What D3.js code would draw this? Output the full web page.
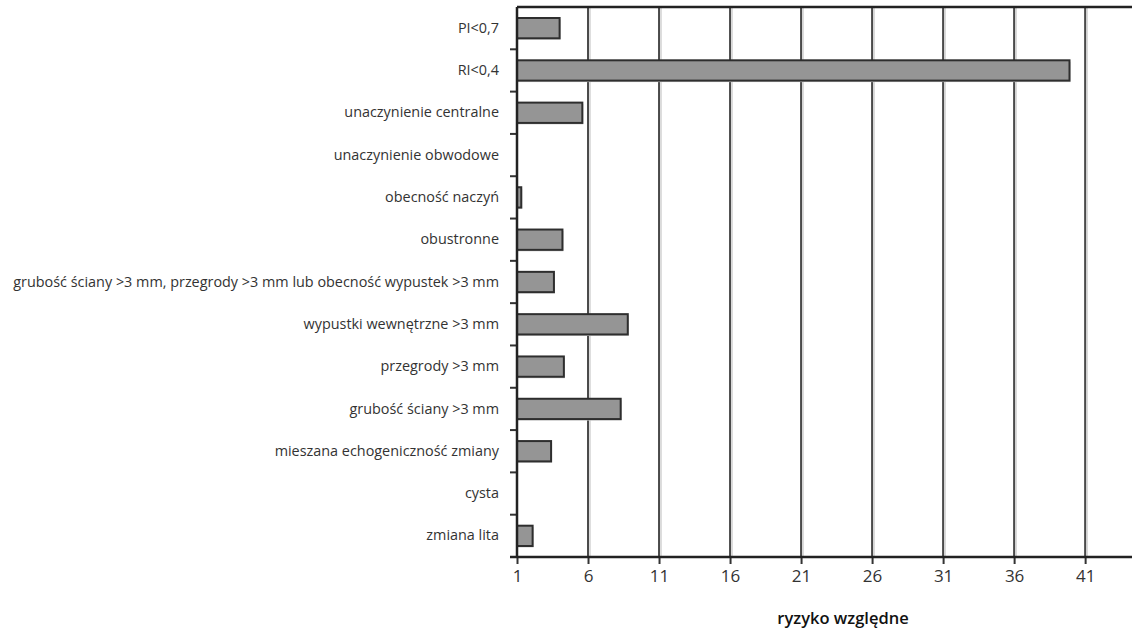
<!DOCTYPE html>
<html><head><meta charset="utf-8">
<script src="https://cdn.jsdelivr.net/npm/d3@7"></script>
<style>body{margin:0;background:#fff}svg{display:block}</style>
</head><body><svg id="c" width="1132" height="632"></svg>
<script>
const categories = ["PI<0,7","RI<0,4","unaczynienie centralne","unaczynienie obwodowe","obecność naczyń","obustronne","grubość ściany >3 mm, przegrody >3 mm lub obecność wypustek >3 mm","wypustki wewnętrzne >3 mm","przegrody >3 mm","grubość ściany >3 mm","mieszana echogeniczność zmiany","cysta","zmiana lita"];
const values = [4.0, 39.9, 5.6, null, 1.3, 4.2, 3.6, 8.8, 4.3, 8.3, 3.4, null, 2.1];
const tickValues = [1,6,11,16,21,26,31,36,41];
const axisTitle = "ryzyko względne";

(function(){
const svg = d3.select("#c");
const L = 517, R = 1132, T = 7, B = 557;
const x = d3.scaleLinear().domain([1, 44.3]).range([L, R]);
const y = d3.scaleBand().domain(categories).range([T, B]).paddingInner(0.52).paddingOuter(0.26);
const yb = d3.scaleBand().domain(categories).range([T, B]);

const g = svg.append("g");
g.selectAll(".gs").data(tickValues.slice(1)).join("line")
  .attr("x1", d => x(d)+2).attr("x2", d => x(d)+2).attr("y1", T).attr("y2", B)
  .attr("stroke", "#d4d4d4").attr("stroke-width", 1.5);
g.selectAll(".gl").data(tickValues.slice(1)).join("line")
  .attr("x1", d => x(d)).attr("x2", d => x(d)).attr("y1", T).attr("y2", B)
  .attr("stroke", "#4a4a4a").attr("stroke-width", 2);

svg.append("line").attr("x1", L).attr("x2", R).attr("y1", T).attr("y2", T)
  .attr("stroke", "#222").attr("stroke-width", 2.5);

const data = categories.map((c,i)=>({c, v: values[i]})).filter(d => d.v != null);
svg.append("g").selectAll("rect").data(data).join("rect")
  .attr("x", x(1)+1).attr("y", d => y(d.c)+1.5)
  .attr("width", d => x(d.v)-x(1)).attr("height", y.bandwidth())
  .attr("fill", "#cfcfcf");
svg.append("g").selectAll("rect").data(data).join("rect")
  .attr("x", x(1)).attr("y", d => y(d.c))
  .attr("width", d => x(d.v)-x(1)).attr("height", y.bandwidth())
  .attr("fill", "#959595").attr("stroke", "#2e2e2e").attr("stroke-width", 2);

const xAxis = d3.axisBottom(x).tickValues(tickValues).tickSize(7).tickPadding(6).tickFormat(d3.format("d"));
const ga = svg.append("g").attr("transform", `translate(0,${B})`).call(xAxis);
ga.select(".domain").remove();
ga.selectAll(".tick line").attr("stroke", "#333").attr("stroke-width", 2);
ga.selectAll(".tick text").attr("fill", "#333").attr("font-size", 17)
  .attr("font-family", "Open Sans, sans-serif");
svg.append("line").attr("x1", L-7).attr("x2", R).attr("y1", B).attr("y2", B)
  .attr("stroke", "#222").attr("stroke-width", 2.5);

const yAxis = d3.axisLeft(yb).tickSize(0).tickPadding(18);
const gy = svg.append("g").attr("transform", `translate(${L},0)`).call(yAxis);
gy.select(".domain").remove();
gy.selectAll(".tick text").attr("fill", "#333").attr("font-size", 14.4)
  .attr("font-family", "Open Sans, sans-serif");
const bounds = categories.slice(1).map(c => yb(c));
svg.append("g").selectAll("line").data(bounds).join("line")
  .attr("x1", L-7).attr("x2", L).attr("y1", d=>d).attr("y2", d=>d)
  .attr("stroke", "#333").attr("stroke-width", 2);
svg.append("line").attr("x1", L).attr("x2", L).attr("y1", T).attr("y2", B)
  .attr("stroke", "#222").attr("stroke-width", 2.5);

svg.append("text").attr("x", 843).attr("y", 624).attr("text-anchor", "middle")
  .attr("font-family", "Open Sans, sans-serif").attr("font-weight", 600).attr("font-size", 16.5)
  .attr("fill", "#111").text(axisTitle);
})();
</script></body></html>
